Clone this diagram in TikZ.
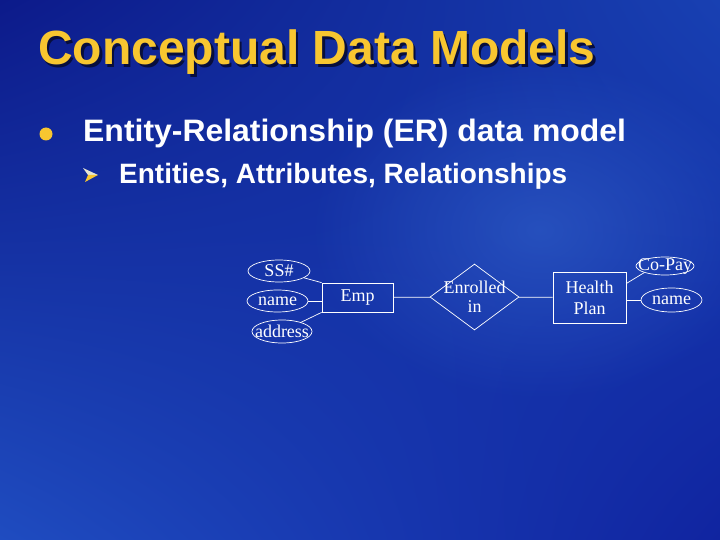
\documentclass[tikz,border=0pt]{standalone}
\usepackage{fontspec}
\setmainfont{Liberation Serif}
\newfontfamily\arialfont{Liberation Sans}
\usetikzlibrary{shapes.geometric,shadings,fadings}
\definecolor{bgTL}{RGB}{12,26,138}
\definecolor{bgTR}{RGB}{24,64,178}
\definecolor{bgBL}{RGB}{31,76,192}
\definecolor{bgBR}{RGB}{16,36,160}
\definecolor{bglight}{RGB}{60,115,215}
\definecolor{titleyellow}{RGB}{248,198,48}
\definecolor{arrowpale}{RGB}{230,230,210}
\definecolor{shadowc}{RGB}{8,14,60}
\tikzfading[name=softspot, inner color=transparent!0, outer color=transparent!100]
\tikzset{
  er/.style={draw=white, line width=0.7pt, text=white, font=\fontsize{18}{20}\selectfont, inner sep=1pt},
  entity/.style={er, rectangle, align=center},
  attr/.style={er, ellipse, inner sep=0pt},
  rel/.style={er, diamond, inner sep=0pt},
  lbl/.style={text=white, font=\fontsize{18}{20}\selectfont, inner sep=0pt, align=center},
  conn/.style={draw=white, line width=0.7pt},
  slidetext/.style={anchor=base west, inner sep=0pt}
}
\begin{document}
\begin{tikzpicture}[x=1pt,y=-1pt]
\useasboundingbox (0,0) rectangle (720,540);
% background
\shade[upper left=bgTL, upper right=bgTR, lower left=bgBL, lower right=bgBR] (0,0) rectangle (720,540);
\fill[bglight, path fading=softspot, opacity=0.45] (540,230) ellipse (230 and 170);
% title
\node[slidetext, text=shadowc, font={\arialfont\bfseries\fontsize{48}{50}\selectfont}] at (40.5,67.5) {Conceptual Data Models};
\node[slidetext, text=titleyellow, font={\arialfont\bfseries\fontsize{48}{50}\selectfont}] (title) at (38,65) {Conceptual Data Models};
% bullets
\fill[titleyellow] (46,134) circle (6.5);
\node[slidetext, text=white, font={\arialfont\bfseries\fontsize{31}{33}\selectfont}] (b1) at (83,142) {\scalebox{1.03}[1]{Entity-Relationship (ER) data model}};
\fill[arrowpale] (83,168) -- (98,175) -- (88,175) -- cycle;
\fill[titleyellow] (98,175) -- (85,182) -- (88,175) -- cycle;
\node[slidetext, text=white, font={\arialfont\bfseries\fontsize{28}{30}\selectfont}] (b2) at (119,184) {Entities, Attributes, Relationships};
% ER diagram
\node[attr, minimum width=62pt, minimum height=22pt, label={[lbl]center:SS\#}] (ss) at (279,271) {};
\node[attr, minimum width=61pt, minimum height=22pt, label={[lbl]center:name}] (name1) at (277.5,301) {};
\node[attr, minimum width=60pt, minimum height=23pt, label={[lbl]center:address}] (addr) at (282,331.5) {};
\node[entity, minimum width=71pt, minimum height=29pt] (emp) at (357.5,297.5) {Emp};
\node[rel, minimum width=89pt, minimum height=66pt, label={[lbl, font=\fontsize{18}{19}\selectfont]center:Enrolled\\in}] (enr) at (474.5,297) {};
\node[entity, minimum width=73pt, minimum height=51pt, font=\fontsize{18}{21}\selectfont] (hp) at (589.5,297.5) {Health\\Plan};
\node[attr, minimum width=58pt, minimum height=18pt, label={[lbl]center:Co-Pay}] (copay) at (665,266) {};
\node[attr, minimum width=61pt, minimum height=24pt, label={[lbl]center:name}] (name2) at (671.5,300) {};
% connectors
\draw[conn] (ss) -- (emp.north west);
\draw[conn] (name1) -- (name1 -| emp.west);
\draw[conn] (addr) -- (emp.south west);
\draw[conn] (emp) -- (enr);
\draw[conn] (enr) -- (hp);
\draw[conn] ([yshift=14pt]hp.east) -- (copay.south west);
\draw[conn] (hp.east |- name2) -- (name2);
\end{tikzpicture}
\end{document}
